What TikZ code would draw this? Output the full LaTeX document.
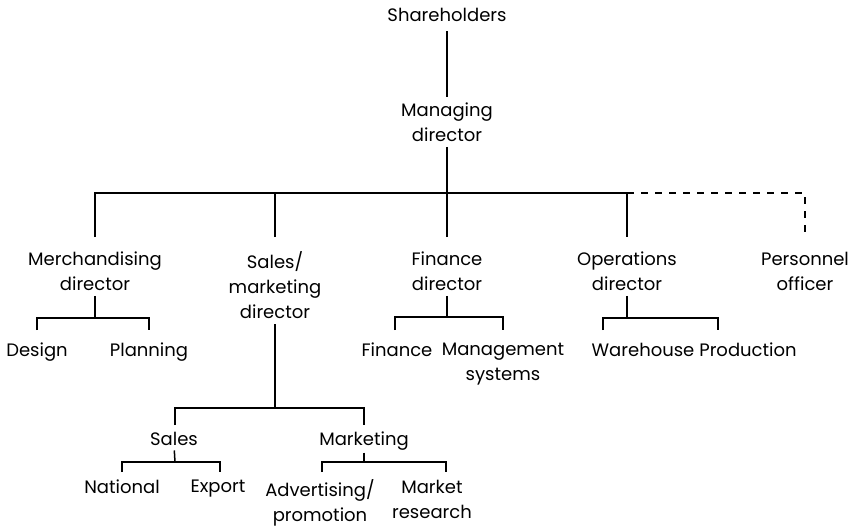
\documentclass[tikz,border=0pt]{standalone}
\usepackage{fontspec}
\setmainfont{Poppins}
\begin{document}
\begin{tikzpicture}[x=1pt,y=-1pt,
  lbl/.style={anchor=north,inner sep=0pt,outer sep=0pt,align=center,
    font=\fontsize{18}{25}\selectfont},
  link/.style={line width=1.5pt},
  dotlink/.style={line width=1.5pt,dash pattern=on 7pt off 7pt}]
\useasboundingbox[fill=white] (0,0) rectangle (857,531);

% top of the chart
\node[lbl] (sh) at (447,8) {Shareholders};
\node[lbl] (md) at (447,103) {Managing\\director};

% directors
\node[lbl] (merch) at (95,252) {Merchandising\\director};
\node[lbl] (smd)   at (275,252) {Sales/\\marketing\\director};
\node[lbl] (fin)   at (447,252) {Finance\\director};
\node[lbl] (ops)   at (627,252) {Operations\\director};
\node[lbl] (pers)  at (805,252) {Personnel\\officer};

% departments
\node[lbl] (design)   at (37,343)  {Design};
\node[lbl] (plan)     at (149,343) {Planning};
\node[lbl] (finance)  at (397,343) {Finance};
\node[lbl] (mgmt)     at (503,343) {Management\\systems};
\node[lbl] (wh)       at (643,343) {Warehouse};
\node[lbl] (prod)     at (748,343) {Production};
\node[lbl] (sales)    at (174,432) {Sales};
\node[lbl] (mkt)      at (364,432) {Marketing};
\node[lbl] (nat)      at (122,480) {National};
\node[lbl] (exp)      at (218,480) {Export};
\node[lbl] (adv)      at (320,480) {Advertising/\\promotion};
\node[lbl] (mres)     at (432,480) {Market\\research};

% branch levels
\coordinate (bar)  at (447,193);
\coordinate (mbar) at (95,318);
\coordinate (fbar) at (447,317);
\coordinate (obar) at (627,318);
\coordinate (sbar) at (275,408);
\coordinate (slbar) at (175,462);
\coordinate (mkbar) at (364,462);

% shareholders to managing director to directors
\draw[link,shorten <=10pt,shorten >=6pt] (sh.south) -- (md.north);
\draw[link,shorten <=5pt] (md.south) -- (bar);
\draw[link,shorten <=15pt,shorten >=15pt] (merch.north) |- (bar) -| (ops.north);
\draw[link,shorten <=15pt] (smd.north) -- (smd.north |- bar);
\draw[link,shorten <=15pt] (fin.north) -- (fin.north |- bar);
\draw[dotlink,shorten >=15pt] (ops.north |- bar) -| (pers.north);

% merchandising
\draw[link,shorten <=5pt] (merch.south) -- (mbar);
\draw[link,shorten <=13pt,shorten >=13pt] (design.north) |- (mbar) -| (plan.north);

% finance
\draw[link,shorten <=5pt] (fin.south) -- (fbar);
\draw[link,shorten <=13pt,shorten >=13pt] ([xshift=-2pt]finance.north) |- (fbar) -| (mgmt.north);

% operations
\draw[link,shorten <=5pt] (ops.south) -- (obar);
\draw[link,shorten <=13pt,shorten >=13pt] ([xshift=-40pt]wh.north) |- (obar) -| ([xshift=-30pt]prod.north);

% sales / marketing
\draw[link,shorten <=5pt] (smd.south) -- (sbar);
\draw[link,shorten <=7pt,shorten >=7pt] ([xshift=1pt]sales.north) |- (sbar) -| (mkt.north);
\draw[link,shorten <=5pt] (sales.south) -- (slbar);
\draw[link,shorten <=8pt,shorten >=8pt] (nat.north) |- (slbar) -| ([xshift=2pt]exp.north);
\draw[link,shorten <=2pt] (mkt.south) -- (mkbar);
\draw[link,shorten <=8pt,shorten >=8pt] ([xshift=2pt]adv.north) |- (mkbar) -| ([xshift=14pt]mres.north);
\end{tikzpicture}
\end{document}
